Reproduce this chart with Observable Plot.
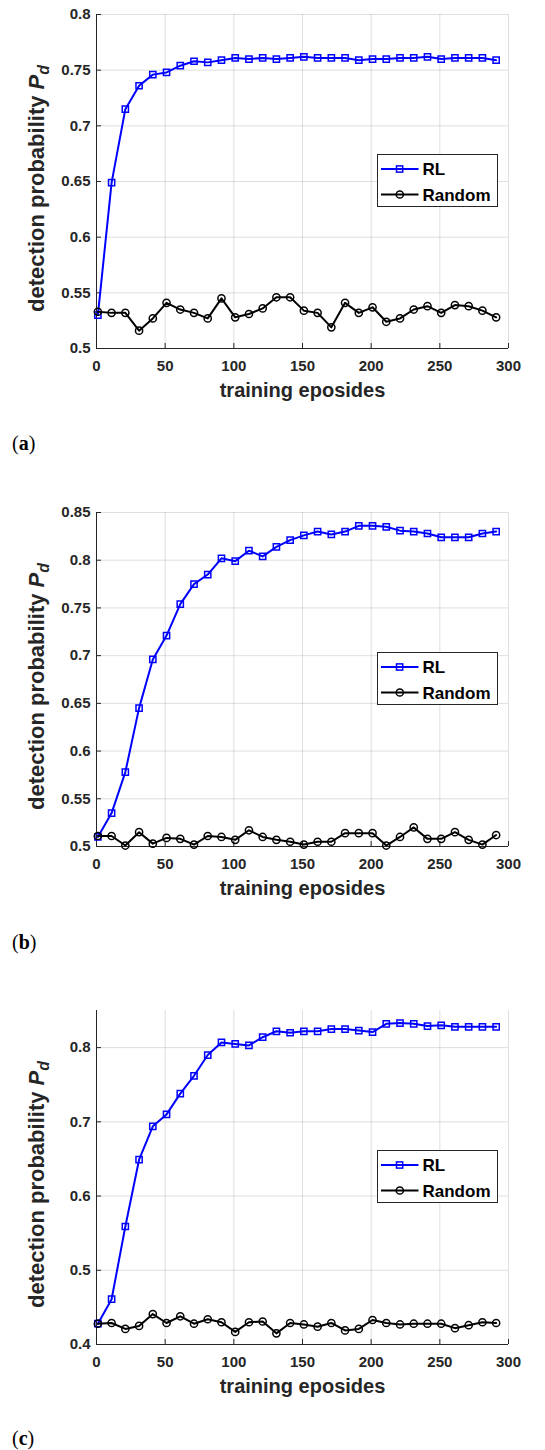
<!DOCTYPE html>
<html><head><meta charset="utf-8">
<script src="https://cdn.jsdelivr.net/npm/d3@7"></script>
<script src="https://cdn.jsdelivr.net/npm/@observablehq/plot@0.6"></script>
<style>
body{margin:0;background:#fff;}
#wrap{position:relative;width:545px;height:1450px;overflow:hidden;}
.panel{position:absolute;left:0;}
.cap{position:absolute;left:12px;font-family:"Liberation Serif","DejaVu Serif",serif;font-size:20px;line-height:20px;color:#000;white-space:nowrap;}
.cap b{font-weight:bold;}
</style></head><body><div id="wrap"></div>
<script>
// ---- data ----
const episodes = [1,11,21,31,41,51,61,71,81,91,101,111,121,131,141,151,161,171,181,191,201,211,221,231,241,251,261,271,281,291];
const xTicks = [0,50,100,150,200,250,300];

const rlA  = [0.530,0.649,0.715,0.736,0.746,0.748,0.754,0.758,0.757,0.759,0.761,0.760,0.761,0.760,0.761,0.762,0.761,0.761,0.761,0.759,0.760,0.760,0.761,0.761,0.762,0.760,0.761,0.761,0.761,0.759];
const rndA = [0.533,0.532,0.532,0.516,0.527,0.541,0.535,0.532,0.527,0.545,0.528,0.531,0.536,0.546,0.546,0.534,0.532,0.519,0.541,0.532,0.537,0.524,0.527,0.535,0.538,0.532,0.539,0.538,0.534,0.528];
const yTicksA = [0.5,0.55,0.6,0.65,0.7,0.75,0.8];

const rlB  = [0.510,0.535,0.578,0.645,0.696,0.721,0.754,0.775,0.785,0.802,0.799,0.810,0.804,0.814,0.821,0.826,0.830,0.827,0.830,0.836,0.836,0.835,0.831,0.830,0.828,0.824,0.824,0.824,0.828,0.830];
const rndB = [0.511,0.511,0.501,0.515,0.503,0.509,0.508,0.502,0.511,0.510,0.507,0.517,0.510,0.507,0.505,0.502,0.505,0.505,0.514,0.514,0.514,0.501,0.510,0.520,0.508,0.508,0.515,0.507,0.502,0.512];
const yTicksB = [0.5,0.55,0.6,0.65,0.7,0.75,0.8,0.85];

const rlC  = [0.428,0.461,0.559,0.649,0.694,0.710,0.738,0.762,0.790,0.807,0.805,0.803,0.814,0.822,0.820,0.822,0.822,0.825,0.825,0.823,0.821,0.832,0.833,0.832,0.829,0.830,0.828,0.828,0.828,0.828];
const rndC = [0.428,0.429,0.421,0.425,0.441,0.429,0.438,0.428,0.434,0.430,0.417,0.430,0.431,0.415,0.429,0.427,0.424,0.429,0.419,0.421,0.433,0.429,0.427,0.428,0.428,0.428,0.422,0.426,0.430,0.429];
const yTicksC = [0.4,0.5,0.6,0.7,0.8];

const seriesNames = ["RL","Random"];
const xLabel = "training eposides";
const yLabel = "detection probability ";

const wrap = document.getElementById("wrap");
const AX = "#262626";

function panel({top, yDomain, yTicks, rl, rnd, capLetter, capBaseline}) {
  const W = 545, H = 410, mt = 14, ml = 96, mr = 37, mb = 62;
  const plotW = W - ml - mr, plotH = H - mt - mb;
  const rlData = episodes.map((x, i) => ({x, y: rl[i]}));
  const rndData = episodes.map((x, i) => ({x, y: rnd[i]}));
  const svg = Plot.plot({
    width: W, height: H, marginTop: mt, marginLeft: ml, marginRight: mr, marginBottom: mb,
    style: {fontFamily: "'Liberation Sans', Arial, sans-serif", fontWeight: "bold", background: "transparent", overflow: "visible"},
    x: {domain: [0, 300], label: null},
    y: {domain: yDomain, label: null},
    marks: [
      Plot.gridX(xTicks, {stroke: AX, strokeOpacity: 0.15, strokeWidth: 1}),
      Plot.gridY(yTicks, {stroke: AX, strokeOpacity: 0.15, strokeWidth: 1}),
      Plot.ruleX([0], {stroke: AX, strokeWidth: 1}),
      Plot.ruleY([yDomain[0]], {stroke: AX, strokeWidth: 1}),
      Plot.tickX(xTicks, {x: d => d, stroke: AX, insetTop: plotH - 5}),
      Plot.tickY(yTicks, {y: d => d, stroke: AX, insetRight: plotW - 5}),
      Plot.axisX({ticks: xTicks, tickSize: 0, tickPadding: 12, fontSize: 15, fill: AX, label: null, tickFormat: d => String(d)}),
      Plot.axisY({ticks: yTicks, tickSize: 0, tickPadding: 6, fontSize: 15, fill: AX, label: null, tickFormat: d => String(d)}),
      Plot.line(rlData, {x: "x", y: "y", stroke: "#0000ff", strokeWidth: 2}),
      Plot.dot(rlData, {x: "x", y: "y", symbol: "square", r: 3.5, stroke: "#0000ff", strokeWidth: 1.5, fill: "none"}),
      Plot.line(rndData, {x: "x", y: "y", stroke: "#000", strokeWidth: 2}),
      Plot.dot(rndData, {x: "x", y: "y", symbol: "circle", r: 3.6, stroke: "#000", strokeWidth: 1.5, fill: "none"}),
      Plot.text([xLabel], {text: d => d, frameAnchor: "bottom", lineAnchor: "bottom", dy: 48, fontSize: 20, fill: AX}),
      Plot.text([yLabel], {text: d => d, frameAnchor: "left", textAnchor: "middle", rotate: -90, dx: -60, dy: 7, fontSize: 22, fill: AX})
    ]
  });
  // y label: italic P with subscript d
  d3.select(svg).selectAll("text").filter(function() { return this.textContent === yLabel; }).each(function() {
    const t = d3.select(this);
    t.append("tspan").attr("font-style", "italic").text("P");
    t.append("tspan").attr("font-style", "italic").attr("font-size", "0.72em").attr("dy", "0.35em").text("d");
  });
  // legend
  const lg = d3.select(svg).append("g").attr("transform", `translate(377.5,154.5)`)
    .attr("font-family", "'Liberation Sans', Arial, sans-serif").attr("font-weight", "bold").attr("text-anchor", "start");
  lg.append("rect").attr("width", 120).attr("height", 52).attr("fill", "#fff").attr("stroke", AX).attr("stroke-width", 1);
  const rows = [{name: seriesNames[0], color: "#0000ff", sym: "square", cy: 14.5}, {name: seriesNames[1], color: "#000", sym: "circle", cy: 40}];
  rows.forEach(r => {
    lg.append("line").attr("x1", 3.5).attr("x2", 41).attr("y1", r.cy).attr("y2", r.cy).attr("stroke", r.color).attr("stroke-width", 2);
    if (r.sym === "square") lg.append("rect").attr("x", 19).attr("y", r.cy - 3.1).attr("width", 6.2).attr("height", 6.2).attr("fill", "none").attr("stroke", r.color).attr("stroke-width", 1.5);
    else lg.append("circle").attr("cx", 22.3).attr("cy", r.cy).attr("r", 3.6).attr("fill", "none").attr("stroke", r.color).attr("stroke-width", 1.5);
    lg.append("text").attr("x", 45).attr("y", r.cy + 6.2).attr("font-size", 17).attr("fill", "#000").attr("text-anchor", "start").text(r.name);
  });
  const div = document.createElement("div");
  div.className = "panel"; div.style.top = top + "px";
  div.appendChild(svg);
  wrap.appendChild(div);
  const cap = document.createElement("div");
  cap.className = "cap"; cap.style.top = (capBaseline - 16.7) + "px";
  cap.innerHTML = `(<b>${capLetter}</b>)`;
  wrap.appendChild(cap);
}

panel({top: 0, yDomain: [0.5, 0.8], yTicks: yTicksA, rl: rlA, rnd: rndA, capLetter: "a", capBaseline: 449.5});
panel({top: 498, yDomain: [0.5, 0.85], yTicks: yTicksB, rl: rlB, rnd: rndB, capLetter: "b", capBaseline: 949});
panel({top: 996, yDomain: [0.4, 0.85], yTicks: yTicksC, rl: rlC, rnd: rndC, capLetter: "c", capBaseline: 1445});
</script></body></html>
